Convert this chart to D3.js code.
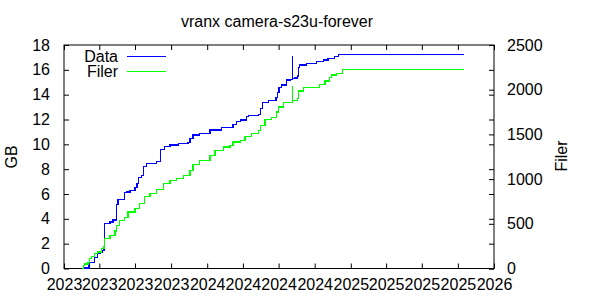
<!DOCTYPE html>
<html>
<head>
<meta charset="utf-8">
<script src="https://cdn.jsdelivr.net/npm/d3@7"></script>
<style>
  body { margin: 0; background: #fff; }
  text { font-family: "Liberation Sans", Arial, sans-serif; font-size: 16px; fill: #000; }
</style>
</head>
<body>
<script>
// Data (GB) - step values, each value holds from its date on
var dataDates = ["2023-02-19","2023-03-06","2023-03-19","2023-03-28","2023-04-03","2023-04-10","2023-04-13",
    "2023-04-15","2023-04-28","2023-05-06","2023-05-15","2023-05-19","2023-06-04","2023-06-09","2023-06-18",
    "2023-07-01","2023-07-06","2023-07-09","2023-07-18","2023-07-22","2023-07-31","2023-08-25","2023-09-04",
    "2023-09-15","2023-09-28","2023-10-19","2023-11-13","2023-11-18","2023-11-26","2023-12-13","2024-01-08",
    "2024-02-07","2024-03-07","2024-03-16","2024-03-25","2024-04-11","2024-04-15","2024-05-10","2024-05-15",
    "2024-05-21","2024-06-05","2024-06-24","2024-06-28","2024-07-02","2024-07-09","2024-07-22","2024-07-31",
    "2024-08-05","2024-08-06","2024-08-12","2024-08-19","2024-08-20","2024-08-24","2024-09-10","2024-10-05",
    "2024-10-23","2024-11-04","2024-11-21","2024-11-30","2025-10-16"];
var dataGB = [0.05,0.5,0.9,1.2,1.3,1.45,1.6,
    3.6,3.75,3.9,5.15,5.55,6.1,6.15,6.3,
    6.55,6.85,7.35,7.5,8.2,8.45,8.6,9.6,
    9.85,9.95,10.05,10.15,10.45,10.75,10.9,11.15,
    11.35,11.6,11.85,11.95,12.25,12.35,12.4,12.9,
    13.35,13.55,13.8,14.2,14.6,14.77,15.17,15.2,
    17.05,15.3,15.35,15.5,16.2,16.4,16.5,16.65,
    16.8,16.9,17.05,17.25,17.25];

// Filer (count)
var filerDates = ["2023-02-17","2023-02-19","2023-02-23","2023-03-03","2023-03-07","2023-03-12","2023-03-20",
    "2023-03-28","2023-04-06","2023-04-13","2023-04-15","2023-04-28","2023-05-11","2023-05-15","2023-05-23",
    "2023-06-05","2023-06-13","2023-07-01","2023-07-13","2023-07-26","2023-08-08","2023-08-25","2023-09-11",
    "2023-09-28","2023-10-15","2023-11-01","2023-11-18","2023-11-26","2023-12-13","2024-01-08","2024-01-21",
    "2024-02-11","2024-02-28","2024-03-07","2024-03-25","2024-04-06","2024-04-23","2024-05-10","2024-05-15",
    "2024-05-27","2024-06-13","2024-06-26","2024-06-30","2024-07-13","2024-07-30","2024-08-05","2024-08-06",
    "2024-08-19","2024-08-20","2024-09-02","2024-10-14","2024-10-27","2024-11-08","2024-11-13","2024-11-26",
    "2024-12-11","2025-10-16"];
var filerCount = [0,34,52,71,108,134,165,
    183,220,247,332,370,418,482,538,
    568,631,669,725,807,837,882,949,
    987,1006,1043,1099,1166,1210,1267,1323,
    1360,1379,1416,1435,1480,1510,1547,1603,
    1667,1689,1752,1808,1853,1860,2033,1883,
    1902,1984,2021,2059,2096,2138,2164,2182,
    2228,2228];

var yTicks = [0,2,4,6,8,10,12,14,16,18];
var y2Ticks = [0,500,1000,1500,2000,2500];

var w = 600, h = 300;
var padL = 64, padR = 494, padT = 45, padB = 268.5;

var parse = d3.utcParse("%Y-%m-%d");

var svg = d3.select("body").append("svg")
    .attr("width", w)
    .attr("height", h);

var xScale = d3.scaleUtc()
    .domain([parse("2023-01-01"), parse("2026-01-01")])
    .range([padL, padR]);
var yScale = d3.scaleLinear().domain([0, 18]).range([padB, padT]);
var y2Scale = d3.scaleLinear().domain([0, 2500]).range([padB, padT]);

var xTickVals = d3.utcMonth.every(3).range(parse("2023-01-01"), parse("2026-01-02"));

// bottom axis
svg.append("g")
    .attr("transform", "translate(0," + padB + ")")
    .call(d3.axisBottom(xScale).tickValues(xTickVals).tickFormat(d3.utcFormat("%Y"))
        .tickSizeInner(-5).tickSizeOuter(0).tickPadding(10));
// top mirror ticks
svg.append("g")
    .attr("transform", "translate(0," + padT + ")")
    .call(d3.axisTop(xScale).tickValues(xTickVals).tickFormat("")
        .tickSizeInner(-5).tickSizeOuter(0));
// left axis
svg.append("g")
    .attr("transform", "translate(" + padL + ",0)")
    .call(d3.axisLeft(yScale).tickValues(yTicks).tickSizeInner(-5).tickSizeOuter(0).tickPadding(14));
// right mirror of left ticks
svg.append("g")
    .attr("transform", "translate(" + padR + ",0)")
    .call(d3.axisRight(yScale).tickValues(yTicks).tickFormat("").tickSizeInner(-5).tickSizeOuter(0));
// right y2 axis
svg.append("g")
    .attr("transform", "translate(" + padR + ",0)")
    .call(d3.axisRight(y2Scale).tickValues(y2Ticks).tickFormat(d3.format("d"))
        .tickSizeInner(-5).tickSizeOuter(0).tickPadding(13));

svg.selectAll(".domain").remove();
svg.selectAll(".tick line").attr("stroke", "#000");
svg.selectAll(".tick text").attr("font-family", null).attr("font-size", null);

svg.append("rect")
    .attr("x", padL).attr("y", padT)
    .attr("width", padR - padL).attr("height", padB - padT)
    .attr("fill", "none").attr("stroke", "#000").attr("stroke-width", 1);

var dataPts = dataDates.map(function (d, i) { return [parse(d), dataGB[i]]; });
var filerPts = filerDates.map(function (d, i) { return [parse(d), filerCount[i]]; });

var lineData = d3.line().curve(d3.curveStepAfter)
    .x(function (d) { return xScale(d[0]); })
    .y(function (d) { return yScale(d[1]); });
var lineFiler = d3.line().curve(d3.curveStepAfter)
    .x(function (d) { return xScale(d[0]); })
    .y(function (d) { return y2Scale(d[1]); });

svg.append("path").datum(dataPts)
    .attr("d", lineData)
    .attr("fill", "none").attr("stroke", "#0000ff").attr("stroke-width", 1.3)
    .attr("shape-rendering", "crispEdges");
svg.append("path").datum(filerPts)
    .attr("d", lineFiler)
    .attr("fill", "none").attr("stroke", "#00ff00").attr("stroke-width", 1.3)
    .attr("shape-rendering", "crispEdges");

// legend
var legendNames = ["Data", "Filer"];
var legendColors = ["#0000ff", "#00ff00"];
legendNames.forEach(function (name, i) {
    var ly = 56.5 + i * 15;
    svg.append("text")
        .attr("x", 118).attr("y", ly)
        .attr("dy", "0.35em")
        .attr("text-anchor", "end")
        .text(name);
    svg.append("line")
        .attr("x1", 127).attr("x2", 166)
        .attr("y1", ly).attr("y2", ly)
        .attr("stroke", legendColors[i]).attr("stroke-width", 1)
        .attr("shape-rendering", "crispEdges");
});

// title and axis labels
svg.append("text")
    .attr("x", 277).attr("y", 27)
    .attr("text-anchor", "middle")
    .text("vranx camera-s23u-forever");

svg.append("text")
    .attr("transform", "translate(17,157) rotate(-90)")
    .attr("text-anchor", "middle")
    .text("GB");

svg.append("text")
    .attr("transform", "translate(567,156) rotate(-90)")
    .attr("text-anchor", "middle")
    .text("Filer");
</script>
</body>
</html>
